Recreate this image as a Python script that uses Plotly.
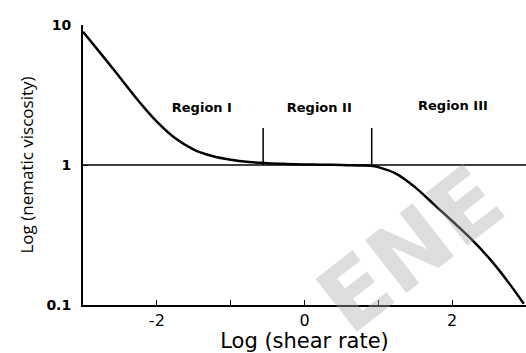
import plotly.graph_objects as go

# Viscosity curve: log shear rate vs nematic viscosity
shear_log = [-3.0, -2.75, -2.5, -2.25, -2.0, -1.75, -1.5, -1.25, -1.0, -0.75,
             -0.5, -0.25, 0.0, 0.25, 0.5, 0.75, 0.9, 1.0, 1.25, 1.5, 1.75,
             2.0, 2.25, 2.5, 2.75, 2.97]
viscosity = [8.95, 6.17, 4.22, 2.88, 2.04, 1.55, 1.29, 1.16, 1.09, 1.05,
             1.03, 1.018, 1.009, 1.005, 1.0, 0.993, 0.989, 0.966, 0.861, 0.692, 0.525,
             0.398, 0.299, 0.216, 0.148, 0.102]

# Reference level and region boundaries
ref_level = 1.0
ref_span = [-3.0, 3.0]
region_bounds = [-0.56, 0.91]
bound_top = 1.84

region_names = ["Region I", "Region II", "Region III"]
region_x = [-1.39, 0.2, 2.01]
region_y = [2.51, 2.51, 2.6]

x_ticks = [-2, -1, 0, 1, 2]
x_tick_text = ["-2", "", "0", "", "2"]
y_ticks = [0.1, 1, 10]
y_tick_text = ["<b>0.1</b>", "<b>1</b>", "<b>10</b>"]

fig = go.Figure()

fig.add_trace(go.Scatter(x=ref_span, y=[ref_level, ref_level], mode="lines",
                         line=dict(color="black", width=1.5), hoverinfo="skip"))

for xb in region_bounds:
    fig.add_trace(go.Scatter(x=[xb, xb], y=[ref_level, bound_top], mode="lines",
                             line=dict(color="black", width=1.5), hoverinfo="skip"))

fig.add_trace(go.Scatter(x=shear_log, y=viscosity, mode="lines",
                         line=dict(color="black", width=2.5, shape="spline", smoothing=1.0)))

fig.add_trace(go.Scatter(x=region_x, y=region_y, mode="text", text=region_names,
                         textfont=dict(family="DejaVu Sans", size=13, color="black"),
                         texttemplate="<b>%{text}</b>", hoverinfo="skip"))

# faint diagonal watermark lettering
fig.add_annotation(text="<b>ENE</b>", xref="paper", yref="paper", x=0.74, y=0.2,
                   xanchor="center", yanchor="middle",
                   showarrow=False, textangle=-38,
                   font=dict(family="DejaVu Sans", size=92, color="rgba(170,170,170,0.4)"))

fig.update_layout(
    width=526, height=353,
    margin=dict(l=83, r=0, t=25, b=48, autoexpand=False),
    paper_bgcolor="white", plot_bgcolor="white",
    showlegend=False,
    xaxis=dict(range=[-3, 3], showgrid=False, zeroline=False, automargin=False,
               showline=True, linecolor="black", linewidth=2,
               tickvals=x_ticks, ticktext=x_tick_text,
               ticks="inside", ticklen=5, tickcolor="black", tickwidth=1,
               tickfont=dict(family="DejaVu Sans", size=16, color="black"),
               title=dict(text="Log (shear rate)", standoff=14,
                          font=dict(family="DejaVu Sans", size=21, color="black"))),
    yaxis=dict(type="log", range=[-1, 1], showgrid=False, zeroline=False, automargin=False,
               showline=True, linecolor="black", linewidth=2,
               tickvals=y_ticks, ticktext=y_tick_text,
               ticks="inside", ticklen=5, tickcolor="black", tickwidth=1,
               ticklabelstandoff=7,
               tickfont=dict(family="DejaVu Sans", size=14, color="black"),
               title=dict(text="Log (nematic viscosity)", standoff=8,
                          font=dict(family="Open Sans", size=17, color="black"))),
)

fig.write_html("out.html")
